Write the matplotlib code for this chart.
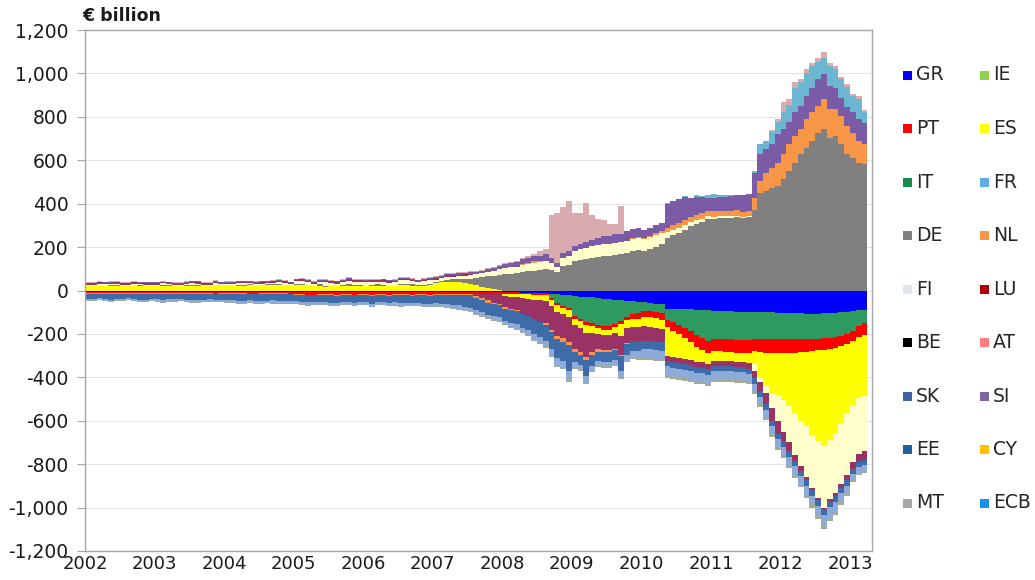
import numpy as np
import matplotlib.pyplot as plt
from matplotlib.patches import Rectangle

# -----------------------------
# 1. Data: TARGET2 balances, EUR billion, month-end, Jan 2002 - Mar 2013
#    Layers are named after the country they most plausibly are and are
#    coloured as they appear in the chart (the chart's legend uses its own
#    colours, kept separately below).
# -----------------------------
first_year = 2002

GR = [
    -7, -8, -8, -9, -8, -7, -8, -8, -9, -8, -8, -7,            # 2002
    -8, -8, -7, -8, -9, -8, -8, -7, -8, -8, -9, -8,            # 2003
    -8, -7, -8, -8, -8, -9, -8, -8, -7, -8, -8, -8,            # 2004
    -8, -8, -9, -8, -7, -8, -8, -9, -8, -8, -7, -8,            # 2005
    -8, -9, -8, -8, -8, -7, -8, -8, -9, -8, -8, -8,            # 2006
    -8, -8, -8, -8, -8, -8, -8, -8, -8, -8, -8, -8,            # 2007
    -8, -8, -8, -10, -10, -10, -10, -12, -15, -18, -20, -22,   # 2008
    -25, -28, -30, -32, -35, -38, -40, -42, -45, -48, -50, -55,
    -55, -57, -60, -62, -85, -85, -85, -85, -85, -88, -90, -92,
    -95, -95, -95, -95, -98, -98, -100, -100, -100, -100, -100, -102,
    -102, -105, -105, -105, -108, -110, -108, -105, -105, -102, -100, -100,
    -95, -92, -90,                                             # 2013
]

IE = [
    0, 0, 0, 0, 0, 0, 0, 0, 0, 0, 0, 0,
    0, 0, 0, 0, 0, 0, 0, 0, 0, 0, 0, 0,
    0, 0, 0, 0, 0, 0, 0, 0, 0, 0, 0, 0,
    0, 0, 0, 0, 0, 0, 0, 0, 0, 0, 0, 0,
    0, 0, 0, 0, 0, 0, 0, 0, 0, 0, 0, 0,
    0, 0, 0, 0, 0, 0, 0, 0, 0, 0, 0, 0,
    0, 0, 0, 0, 0, 0, 0, 0, -20, -40, -50, -60,
    -93, -102, -115, -118, -125, -127, -125, -113, -95, -72, -60, -50,
    -38, -38, -40, -42, -49, -60, -75, -90, -100, -115, -130, -140,
    -130, -130, -130, -130, -130, -130, -130, -125, -125, -125, -125, -123,
    -123, -120, -120, -120, -117, -115, -114, -115, -113, -113, -110, -100,
    -90, -73, -60,
]

PT = [
    -4, -4, -3, -4, -5, -4, -4, -3, -4, -5, -4, -4,
    -4, -5, -4, -4, -3, -4, -5, -4, -4, -4, -5, -4,
    -5, -4, -4, -5, -6, -5, -4, -5, -6, -5, -5, -6,
    -8, -10, -10, -12, -10, -8, -10, -12, -10, -10, -12, -10,
    -10, -12, -10, -10, -12, -10, -8, -10, -12, -10, -10, -12,
    -8, -8, -8, -8, -8, -8, -8, -8, -8, -8, -8, -8,
    -8, -8, -8, -8, -8, -10, -10, -10, -10, -10, -10, -10,
    -12, -12, -12, -15, -15, -15, -15, -15, -15, -18, -20, -25,
    -27, -27, -27, -30, -35, -40, -40, -45, -50, -55, -55, -55,
    -55, -55, -57, -57, -60, -60, -60, -55, -60, -63, -65, -65,
    -65, -63, -63, -60, -58, -55, -53, -52, -52, -50, -45, -45,
    -49, -50, -53,
]

ES = [
    22, 22, 22, 20, 20, 22, 22, 22, 20, 20, 22, 22,
    22, 22, 20, 20, 22, 22, 20, 22, 22, 22, 24, 24,
    24, 24, 22, 22, 24, 24, 24, 26, 26, 26, 24, 24,
    26, 24, 24, 20, 20, 18, 20, 20, 22, 22, 20, 20,
    22, 22, 22, 20, 20, 22, 24, 24, 22, 22, 22, 24,
    35, 38, 40, 40, 38, 35, 30, 24, 16, 10, 6, 3,
    -10, -12, -15, -18, -20, -22, -25, -25, -25, -30, -30, -30,
    -30, -30, -40, -30, -25, -25, -25, -28, -55, -35, -38, -40,
    -43, -45, -45, -45, -131, -120, -110, -95, -85, -70, -55, -50,
    -45, -45, -42, -42, -40, -40, -45, -60, -115, -152, -182, -190,
    -213, -242, -276, -315, -343, -392, -420, -439, -418, -392, -355, -319,
    -292, -280, -285,
]

DE = [
    0, 0, 0, 3, 5, 5, 0, 0, 3, 5, 0, 0,
    0, 3, 5, 0, 0, 3, 5, 5, 0, 0, 3, 0,
    0, 0, 3, 5, 5, 0, 0, 3, 5, 5, 3, 0,
    5, 5, 0, 0, 8, 5, 0, 0, 5, 8, 5, 5,
    0, 5, 8, 5, 0, 0, 5, 8, 8, 5, 5, 8,
    5, 8, 10, 12, 15, 18, 25, 35, 45, 55, 62, 70,
    75, 78, 80, 85, 88, 92, 95, 100, 95, 85, 115, 118,
    135, 140, 145, 150, 155, 160, 160, 165, 170, 175, 180, 185,
    180, 190, 200, 215, 243, 255, 265, 280, 295, 305, 315, 330,
    330, 332, 335, 335, 338, 335, 340, 370, 450, 458, 474, 481,
    512, 550, 589, 628, 658, 689, 727, 743, 704, 712, 674, 628,
    612, 589, 581,
]

IT = [
    5, 5, 8, 5, 5, 3, 5, 5, 8, 5, 5, 5,
    5, 8, 5, 5, 3, 5, 8, 5, 5, 5, 8, 5,
    5, 5, 8, 8, 5, 5, 8, 5, 5, 8, 8, 5,
    12, 15, 15, 10, 10, 15, 15, 12, 10, 15, 15, 15,
    15, 12, 10, 15, 15, 15, 18, 15, 12, 10, 15, 15,
    10, 10, 12, 12, 12, 15, 15, 15, 18, 20, 22, 25,
    28, 30, 30, 32, 32, 35, 35, 38, 30, 25, 35, 40,
    45, 50, 52, 55, 55, 55, 55, 55, 55, 55, 55, 55,
    55, 55, 55, 50, 25, 25, 25, 22, 20, 18, 15, 12,
    10, 10, 8, 8, 6, 5, 5, -30, -20, -30, -68, -120,
    -147, -170, -196, -210, -234, -238, -260, -289, -272, -278, -280, -286,
    -264, -260, -253,
]

FR = [
    6, 6, 7, 6, 6, 7, 6, 6, 7, 6, 6, 7,
    7, 6, 6, 7, 7, 6, 6, 7, 7, 6, 6, 7,
    7, 7, 6, 6, 7, 7, 7, 6, 6, 7, 7, 7,
    7, 8, 7, 7, 8, 8, 7, 7, 8, 8, 7, 7,
    8, 8, 7, 8, 8, 8, 8, 7, 8, 8, 8, 8,
    8, 8, 8, 8, 8, 6, 5, -10, -20, -30, -40, -45,
    -50, -55, -60, -70, -80, -90, -100, -105, -110, -110, -110, -115,
    -110, -110, -110, -90, -70, -70, -70, -70, -85, -70, -65, -65,
    -69, -65, -65, -60, -25, -25, -25, -25, -25, -25, -25, -25,
    -25, -25, -25, -25, -25, -25, -25, -35, -45, -55, -60, -60,
    -45, -40, -25, -20, -15, -10, -8, -5, -8, -12, -20, -25,
    -30, -35, -40,
]

NL = [
    -4, -4, -3, -4, -5, -4, -4, -3, -4, -4, -5, -4,
    -4, -3, -4, -4, -4, -5, -4, -4, -3, -4, -4, -4,
    -4, -4, -5, -4, -3, -4, -4, -4, -5, -4, -4, -3,
    -4, -4, -4, -3, -4, -5, -4, -4, -4, -3, -4, -4,
    -4, -5, -4, -4, -4, -3, -4, -4, -5, -4, -4, -4,
    -3, -3, -3, -3, -3, -3, -5, -8, -10, -10, -8, -8,
    -8, -8, -5, 5, 5, 8, 5, -5, -10, -15, -15, -15,
    -15, -15, -15, -12, -12, -10, -10, -8, -8, -5, 5, 5,
    5, 5, 8, 8, 20, 20, 20, 22, 22, 25, 25, 25,
    25, 25, 25, 25, 25, 23, 20, 58, 55, 85, 92, 108,
    116, 124, 123, 115, 131, 131, 123, 138, 131, 123, 130, 130,
    115, 100, 93,
]

LU = [
    3, 3, 2, 3, 4, 3, 3, 2, 3, 3, 4, 3,
    3, 2, 3, 3, 3, 4, 3, 3, 2, 3, 3, 3,
    3, 3, 4, 3, 2, 3, 3, 3, 4, 3, 3, 2,
    3, 3, 3, 4, 3, 3, 2, 3, 3, 4, 3, 3,
    4, 3, 3, 3, 4, 3, 3, 4, 3, 3, 4, 4,
    5, 5, 6, 6, 8, 8, 10, 10, 12, 12, 15, 15,
    18, 20, 22, 22, 25, 25, 25, 30, 25, 15, 25, 25,
    23, 23, 25, 28, 30, 35, 38, 38, 35, 45, 45, 45,
    40, 40, 40, 40, 110, 110, 110, 105, 90, 85, 75, 60,
    60, 62, 65, 68, 70, 75, 80, 115, 123, 108, 108, 131,
    115, 100, 108, 107, 108, 115, 124, 116, 108, 100, 85, 85,
    93, 100, 96,
]

FI = [
    0, 0, 0, 0, 0, 0, 0, 0, 0, 0, 0, 0,
    0, 0, 0, 0, 0, 0, 0, 0, 0, 0, 0, 0,
    0, 0, 0, 0, 0, 0, 0, 0, 0, 0, 0, 0,
    0, 0, 0, 0, 0, 0, 0, 0, 0, 0, 0, 0,
    0, 0, 0, 0, 0, 0, 0, 0, 0, 0, 0, 0,
    0, 0, 0, 0, 0, 0, 0, 0, 0, 0, 0, 0,
    0, 0, 0, 0, 0, 0, 0, 0, 0, 0, 0, 0,
    0, 0, 0, 0, 0, 0, 0, 0, 0, 0, 0, 0,
    0, 0, 0, 0, 5, 0, 0, 5, 0, 5, 5, 15,
    20, 10, 5, 5, 0, 0, 0, 7, 46, 38, 55, 55,
    80, 80, 115, 110, 105, 100, 80, 75, 90, 85, 85, 95,
    75, 95, 50,
]

ECB = [
    3, 2, 3, 3, 3, 2, 3, 3, 3, 2, 3, 3,
    3, 3, 2, 3, 3, 3, 2, 3, 3, 3, 3, 2,
    3, 3, 3, 2, 3, 3, 3, 3, 2, 3, 3, 3,
    2, 3, 3, 3, 3, 2, 3, 3, 3, 3, 2, 3,
    3, 3, 3, 2, 3, 3, 3, 3, 3, 2, 3, 3,
    3, 3, 3, 3, 3, 3, 3, 5, 5, 5, 5, 5,
    5, 5, 5, 8, 8, 10, 20, 25, 200, 230, 210, 229,
    155, 145, 182, 117, 90, 77, 52, 47, 129, 0, 0, 0,
    0, 0, 0, 0, 0, 0, 0, 0, 0, 0, 0, 0,
    0, 0, 0, 0, 0, 0, 0, 0, 0, 0, 11, 15,
    47, 26, 25, 15, 18, 15, 16, 28, 17, 15, 11, 12,
    10, 11, 10,
]

SK = [
    -22, -22, -20, -22, -25, -22, -22, -20, -22, -25, -25, -22,
    -25, -28, -25, -25, -22, -25, -28, -30, -28, -25, -25, -28,
    -28, -30, -32, -30, -28, -30, -32, -30, -28, -30, -32, -30,
    -28, -30, -32, -30, -30, -32, -35, -32, -30, -32, -35, -32,
    -32, -35, -33, -32, -33, -35, -38, -35, -33, -35, -38, -38,
    -40, -42, -45, -48, -50, -55, -58, -58, -55, -55, -55, -55,
    -55, -60, -60, -65, -65, -70, -70, -75, -80, -90, -90, -120,
    -45, -45, -70, -50, -45, -45, -45, -45, -70, -50, -45, -45,
    -38, -38, -38, -38, -25, -25, -25, -25, -25, -25, -25, -25,
    -23, -23, -23, -23, -23, -23, -23, -25, -25, -25, -25, -25,
    -25, -25, -25, -25, -25, -25, -28, -30, -30, -28, -25, -25,
    -23, -23, -23,
]

EE = [
    -8, -8, -7, -8, -9, -8, -8, -7, -8, -9, -8, -8,
    -8, -9, -8, -8, -7, -8, -9, -8, -8, -8, -9, -8,
    -10, -9, -10, -11, -10, -10, -9, -10, -11, -10, -10, -10,
    -12, -11, -12, -12, -13, -12, -12, -11, -12, -13, -12, -12,
    -12, -13, -12, -12, -11, -12, -13, -12, -12, -12, -13, -12,
    -10, -10, -12, -12, -14, -14, -15, -15, -15, -15, -15, -16,
    -16, -18, -20, -20, -22, -25, -25, -25, -28, -30, -30, -40,
    -25, -25, -35, -25, -20, -20, -20, -20, -30, -25, -30, -30,
    -39, -39, -40, -40, -40, -40, -40, -40, -40, -40, -40, -40,
    -38, -38, -38, -38, -38, -38, -38, -35, -35, -35, -38, -38,
    -40, -40, -40, -40, -40, -40, -42, -45, -45, -42, -40, -35,
    -30, -30, -30,
]

MT = [
    -3, -3, -2, -3, -3, -3, -2, -3, -3, -3, -3, -2,
    -3, -3, -3, -2, -3, -3, -3, -3, -2, -3, -3, -3,
    -3, -2, -3, -3, -3, -3, -3, -2, -3, -3, -3, -3,
    -3, -3, -3, -3, -2, -3, -3, -3, -3, -3, -2, -3,
    -3, -3, -2, -3, -3, -3, -3, -3, -2, -3, -3, -3,
    -5, -5, -5, -5, -5, -5, -5, -5, -5, -5, -5, -5,
    -5, -5, -5, -5, -6, -6, -6, -6, -8, -8, -8, -8,
    -5, -5, -5, -5, -5, -5, -5, -5, -5, -8, -8, -8,
    -10, -10, -10, -10, -12, -12, -12, -12, -12, -12, -12, -12,
    -12, -12, -12, -12, -12, -12, -12, -12, -12, -12, -12, -12,
    -12, -12, -12, -12, -15, -15, -18, -20, -20, -18, -15, -12,
    -10, -8, -8,
]

# stacking order, away from zero on each side
layers = ["GR", "IE", "PT", "ES", "DE", "IT", "FR", "NL", "LU", "FI", "ECB", "SK", "EE", "MT"]
series = {"GR": GR, "IE": IE, "PT": PT, "ES": ES, "DE": DE, "IT": IT, "FR": FR,
          "NL": NL, "LU": LU, "FI": FI, "ECB": ECB, "SK": SK, "EE": EE, "MT": MT}
layer_colors = {
    "GR": "#0000FF", "IE": "#2E9A60", "PT": "#FF0000", "ES": "#FFFF00",
    "DE": "#808080", "IT": "#FFFFCC", "FR": "#993366", "NL": "#F79646",
    "LU": "#7B5AA6", "FI": "#6BB6D0", "ECB": "#D9AAAE", "SK": "#3E6CA8",
    "EE": "#8EAAD8", "MT": "#A2AD98",
}

# legend, read row by row (two columns)
legend_labels = ["GR", "IE", "PT", "ES", "IT", "FR", "DE", "NL", "FI", "LU",
                 "BE", "AT", "SK", "SI", "EE", "CY", "MT", "ECB"]
legend_colors = ["#0000FF", "#92D050", "#FF0000", "#FFFF00", "#1A8A4A", "#5DADE2",
                 "#808080", "#F79646", "#DAE8EE", "#B00000", "#000000", "#FF7C80",
                 "#3A66A8", "#8064A2", "#1F5F9E", "#FFC000", "#A6A6A6", "#1A8FF0"]

year_ticks = list(range(2002, 2014))
value_ticks = list(range(-1200, 1201, 200))


# -----------------------------
# 2. Stacked step areas
# -----------------------------
def draw_stack(ax):
    n = len(GR)
    for name in layers:
        if len(series[name]) != n:
            raise ValueError(f"{name} has {len(series[name])} values, expected {n}")

    x = first_year + np.arange(n + 1) / 12.0
    pos = np.zeros(n)
    neg = np.zeros(n)
    for name in layers:
        v = np.asarray(series[name], dtype=float)
        up = np.clip(v, 0, None)
        dn = np.clip(v, None, 0)
        for base, part in ((pos, up), (neg, dn)):
            if part.any():
                lo = np.append(base, base[-1])
                hi = np.append(base + part, base[-1] + part[-1])
                ax.fill_between(x, lo, hi, step="post", color=layer_colors[name],
                                linewidth=0, zorder=2)
        pos += up
        neg += dn


# -----------------------------
# 3. Figure
# -----------------------------
W, H = 1035, 580
fig = plt.figure(figsize=(W / 100, H / 100), dpi=100)
ax = fig.add_axes([85 / W, 29 / H, 787 / W, 521 / H])

draw_stack(ax)

ax.set_xlim(2002, 2002 + 787 / 69.55)
ax.set_ylim(-1200, 1200)
ax.set_xticks(year_ticks)
ax.set_xticklabels([str(y) for y in year_ticks])
ax.set_yticks(value_ticks)
ax.set_yticklabels([f"{v:,}" for v in value_ticks])

ax.yaxis.grid(True, color="#E4E4E4", linewidth=0.8, zorder=0)
ax.set_axisbelow(True)
for side in ax.spines.values():
    side.set_color("#A6A6A6")
    side.set_linewidth(1.0)

ax.tick_params(axis="y", length=5.5, width=0.8, color="#A6A6A6", pad=6.5,
               labelsize=13.5, labelcolor="#1A1A1A")
ax.tick_params(axis="x", length=0, pad=3, labelsize=13, labelcolor="#1A1A1A")

fig.text(82 / W, 1 - 16 / H, "\u20ac billion", ha="left", va="center",
         fontsize=12.5, fontweight="bold", color="#1A1A1A")

# legend drawn square by square to keep the chart's spacing
for i, (lab, col) in enumerate(zip(legend_labels, legend_colors)):
    row, column = divmod(i, 2)
    px = 903 + column * 77
    py = 75 + row * 53.5
    fig.patches.append(Rectangle((px / W, 1 - (py + 4.5) / H), 9 / W, 9 / H,
                                 transform=fig.transFigure, facecolor=col,
                                 edgecolor="none"))
    fig.text((px + 13) / W, 1 - py / H, lab, ha="left", va="center",
             fontsize=13.5, color="#262626")

fig.savefig("out.png", dpi=100)
